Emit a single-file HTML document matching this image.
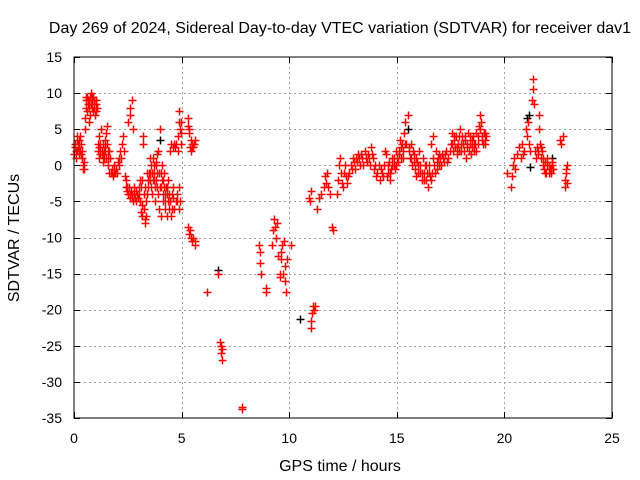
<!DOCTYPE html>
<html><head><meta charset="utf-8"><style>
body{margin:0;background:#fff;}
svg{display:block;font-family:"Liberation Sans",sans-serif;}
</style></head><body>
<svg id="chart" width="640" height="480" viewBox="0 0 640 480">
<rect width="640" height="480" fill="#fff"/>
<g id="grid"></g>
<g id="marks"></g>
<rect x="74" y="57" width="538" height="361" fill="none" stroke="#000" stroke-width="1"/>
<g id="ticks"></g>
<text x="340" y="33" font-size="16" text-anchor="middle">Day 269 of 2024, Sidereal Day-to-day VTEC variation (SDTVAR) for receiver dav1</text>
<text x="340" y="471" font-size="16" text-anchor="middle">GPS time / hours</text>
<text transform="translate(19,238) rotate(-90)" font-size="16" text-anchor="middle">SDTVAR / TECUs</text>
</svg>
<script>
const xTicks=[0,5,10,15,20,25];
const yTicks=[15,10,5,0,-5,-10,-15,-20,-25,-30,-35];
const redPoints=[[0,1.5],[0.03,2.5],[0.06,3],[0.1,2],[0.12,3.5],[0.15,4],[0.18,2.5],[0.2,3],[0.22,1.5],[0.25,3.5],[0.28,2],[0.3,4],[0.33,3],[0.35,1],[0.38,2],[0.4,0],[0.43,-0.5],[0.45,0.5],[0.48,-0.5],
[0.5,5],[0.52,6.5],[0.55,8],[0.58,9],[0.6,9.5],[0.62,7.5],[0.65,8.5],[0.68,9],[0.7,6],[0.72,8],[0.75,9.5],[0.78,8.5],[0.8,10],[0.82,8],[0.85,9],[0.88,7.5],[0.9,9.5],[0.92,8.5],[0.95,8],[0.98,7],[1.0,9],[1.03,7.5],[1.05,8],
[1.1,3],[1.13,2],[1.15,4],[1.18,1],[1.2,3],[1.23,2.5],[1.25,5],[1.28,2],[1.3,1.5],[1.33,3],[1.35,0.5],[1.38,2],[1.4,1],[1.42,3.5],[1.45,2],[1.48,1],[1.5,4.5],[1.52,5.5],[1.55,3],[1.58,2],[1.6,0],[1.63,-1],[1.65,1],
[1.7,-1],[1.75,-0.5],[1.8,-1.5],[1.85,0],[1.9,-1],[1.95,-0.5],[2.0,-1],[2.05,0.5],[2.1,1],[2.15,2],[2.2,1],[2.25,3],[2.3,4],[2.33,2],[2.35,-1.5],[2.4,-3],[2.42,-2],[2.45,-3.5],[2.5,-4],[2.52,6],[2.55,-3],[2.58,7],[2.6,-4.5],[2.62,8],[2.65,-3.5],[2.68,9],[2.7,-4],[2.72,5],[2.75,-5],[2.8,-4],[2.85,-4.5],[2.9,-3.5],[2.95,-4],
[3.0,-3],[3.05,-2],[3.08,-5],[3.1,-6.5],[3.12,-3],[3.15,-7],[3.18,-2],[3.2,3],[3.22,4],[3.25,-6],[3.28,-7.5],[3.3,-8],[3.32,-3],[3.35,-7],[3.38,-4],[3.4,-1],[3.42,-2],[3.45,-3],[3.5,-1],[3.52,1],[3.55,-2],[3.58,0],[3.6,-3],[3.63,-4],[3.65,-2],[3.68,1],[3.7,-1],[3.72,0],[3.75,-3],[3.78,-5],[3.8,-2],[3.82,0.5],[3.85,1.5],[3.88,-1],[3.9,2],[3.92,-4],[3.95,-6],[3.98,-3],[4.0,5],[4.02,-1],[4.05,-7],[4.08,-2],[4.1,0],[4.12,-4],[4.15,-5],[4.18,-1],[4.2,-3],[4.22,-5],[4.25,-6],[4.28,-3],[4.3,-4],[4.32,-7],[4.35,-5],[4.38,-2],[4.4,-6],[4.42,-4],[4.45,2],[4.48,-5],[4.5,3],[4.52,-7],[4.55,-6],[4.58,2.5],[4.6,-3],[4.62,-4.5],[4.65,3],[4.7,2.5],[4.75,3],[4.8,-5],[4.82,2],[4.85,4],[4.88,6],[4.9,7.5],[4.92,5],[4.95,3],[4.98,4.5],
[5.3,6.5],[5.32,5.5],[5.35,4.5],[5.4,2.5],[5.42,3.5],[5.45,2],[5.5,3],[5.55,2.5],[5.6,3.5],
[5.3,-8.5],[5.35,-9.5],[5.4,-9],[5.45,-10],[5.5,-10.5],[5.55,-10],[5.6,-11],[5.62,-10.5],
[6.2,-17.5],[6.7,-15],[6.8,-24.5],[6.82,-25],[6.85,-26],[6.88,-25.5],[6.9,-27],[7.8,-33.5],[7.82,-33.8],
[8.6,-11],[8.62,-12],[8.65,-13.5],[8.68,-15],[8.9,-17],[8.92,-17.5],
[9.2,-11],[9.25,-9],[9.3,-7.5],[9.35,-8.5],[9.4,-10],[9.45,-8],[9.5,-12.5],[9.55,-15.5],[9.58,-15],[9.6,-13],[9.62,-12],[9.65,-11],[9.7,-15],[9.75,-10.5],[9.8,-14],[9.82,-16],[9.85,-17.5],[9.9,-13],[10.1,-11],
[10.9,-4.5],[10.95,-5],[11.0,-22.5],[11.02,-21.5],[11.05,-20.5],[11.1,-19.5],[11.15,-20],[11.2,-19.5],[11.0,-3.5],
[11.3,-6],[11.4,-4.5],[11.5,-4],[11.6,-3],[11.65,-1.5],[11.7,-2.5],[11.75,-1],[11.8,-3],[11.9,-4],[12.0,-8.5],[12.02,-9],
[12.2,-4],[12.25,-2],[12.3,0],[12.35,1],[12.4,-1],[12.45,-2.5],[12.5,-3],[12.55,-1],[12.6,0],[12.7,-2.5],[12.8,-1],[12.9,-0.5],[13.0,0.5],[13.1,1],[13.2,1.5],[13.3,0],[13.4,1],[13.5,2],[13.6,0.5],[13.7,1],[13.8,2.5],[13.9,1],[14.0,0],[14.1,-1],[14.2,-2],[14.3,-1],[14.4,0],[14.45,2],[14.5,1.5],[14.55,-1.5],[14.6,-1],[14.65,0.5],[14.7,-2],[14.75,-0.5],[14.8,0],[14.85,1],[14.9,-0.5],[14.95,2],[15.0,1],[15.05,0.5],[15.1,2],[15.15,3.5],[15.2,1],[15.25,3],[15.3,2],[15.35,4.5],[15.4,6],[15.45,3],[15.5,7],[15.55,2.5],[15.6,1],[15.65,3],[15.7,0],[15.75,2],[15.8,1.5],[15.85,-0.5],[15.9,-1.5],[15.95,0.5],[16.0,-1],[16.05,2],[16.1,0],[16.15,-2],[16.2,1],[16.25,-1],[16.3,0],[16.35,-2],[16.4,-1],[16.45,-3],[16.5,0],[16.55,-1.5],[16.6,3],[16.65,-1],[16.7,4],[16.75,0],[16.8,2],[16.85,-0.5],[16.9,1],[16.95,0],[17.0,1],[17.1,1.5],[17.2,0.5],[17.3,2],[17.4,1],[17.5,3],[17.55,4.5],[17.6,2],[17.65,3.5],[17.7,2.5],[17.75,4],[17.8,1.5],[17.85,3],[17.9,2],[17.95,5],[18.0,3],[18.05,4],[18.1,2],[18.15,3.5],[18.2,1],[18.25,2.5],[18.3,4.5],[18.35,2],[18.4,3],[18.45,1.5],[18.5,3.5],[18.55,4],[18.6,2],[18.65,3],[18.7,4.5],[18.75,3],[18.8,5.5],[18.85,7],[18.9,6],[18.95,4],[19.0,3],[19.05,4.5],[19.1,3.5],[19.15,4],
[20.1,-1],[20.3,-3],[20.35,-1.5],[20.4,0],[20.45,1],[20.5,-0.5],[20.6,1.5],[20.7,2.5],[20.75,1],[20.8,3],[20.85,1.5],[20.9,2],[21.0,5],[21.05,4],[21.1,6],[21.15,3],[21.2,2],[21.3,9],[21.32,10.5],[21.34,12],[21.36,8.5],[21.4,2],[21.45,1],[21.5,2.5],[21.55,1.5],[21.6,7],[21.62,5],[21.65,3],[21.7,1],[21.75,2],[21.8,0],[21.85,-0.5],[21.9,0.5],[21.95,-1],[22.0,1],[22.05,0],[22.1,-0.5],[22.15,-1],[22.2,0],[22.25,-0.5],[22.6,3.5],[22.65,3],[22.7,4],[22.8,-2],[22.82,-3],[22.85,-1],[22.88,-0.5],[22.9,-2.5],[22.92,0]];
const extraRedPoints=[[0.08,1],[0.14,2],[0.24,2.5],[0.32,1.5],[0.56,9.5],[0.64,9],[0.7,8.5],[0.74,7],[0.84,9.5],[0.94,9],[1.02,8.5],[1.16,2.5],[1.22,1.5],[1.36,1.5],[1.44,2.5],[1.56,1],[1.62,2],[1.78,-1],[1.88,-1],[2.08,0],[2.48,-3],[2.58,-4],[2.68,-4.5],[2.78,-3],[2.88,-5],[2.98,-4.5],[3.02,-4],[3.14,-5.5],[3.24,-4],[3.34,-5],[3.44,-2],[3.54,-1],[3.62,-1],[3.7,-2],[3.8,0],[3.86,-3],[3.94,-1],[4.04,-3],[4.14,-2],[4.24,-4],[4.34,-3],[4.44,-5],[4.54,-4],[4.64,-6],[4.72,-5],[4.78,-4],[4.86,-6],[4.9,-3],[4.94,-5],[4.96,6],[5.36,5],[5.48,2.5],[5.58,3],[12.62,-1.5],[12.75,-1.5],[12.85,0],[12.95,1],[13.05,-0.5],[13.15,0.5],[13.25,1],[13.35,1.5],[13.45,0],[13.55,1],[13.65,1.5],[13.75,0],[13.85,1.5],[13.95,-0.5],[14.05,-1.5],[14.15,0],[14.25,-0.5],[14.35,-1.5],[14.58,0],[14.68,-1],[14.78,1],[14.88,0],[14.98,0],[15.08,1.5],[15.18,2.5],[15.28,1],[15.38,3],[15.58,2],[15.68,1],[15.78,0.5],[15.88,1],[15.98,0],[16.08,-1],[16.18,-1],[16.28,-2],[16.38,0],[16.48,-1],[16.58,-2],[16.68,1],[16.78,-1],[16.88,0.5],[16.98,1.5],[17.05,0],[17.15,1],[17.25,1.5],[17.35,0.5],[17.45,2],[17.58,3],[17.68,4],[17.78,2.5],[17.88,4],[17.98,2],[18.08,3],[18.18,4],[18.28,3],[18.38,4],[18.48,2.5],[18.58,3],[18.68,2],[18.78,4],[18.88,5],[18.98,3.5],[19.08,3],[19.12,4.5],[21.58,2],[21.68,2.5],[21.78,1],[21.88,-1],[21.98,0],[22.08,-1],[22.18,-0.5],[22.22,0.5]];
const blackPoints=[[4.0,3.5],[6.7,-14.5],[10.5,-21.3],[21.05,6.5],[21.15,7],[21.2,-0.3],[22.2,1],[15.5,5],[4.3,-3]];

const NS='http://www.w3.org/2000/svg';
const X0=74,X1=612,Y0=418,Y1=57;
function xs(t){return X0+(t-0)/(25-0)*(X1-X0);}
function ys(v){return Y0-(v-(-35))/(15-(-35))*(Y0-Y1);}
function mk(tag,attrs,parent){const e=document.createElementNS(NS,tag);for(const k in attrs)e.setAttribute(k,attrs[k]);parent.appendChild(e);return e;}
const grid=document.getElementById('grid'),ticks=document.getElementById('ticks'),marks=document.getElementById('marks');
xTicks.forEach(t=>{const x=Math.round(xs(t))+0.5;
 if(t>0&&t<25){const g=mk('line',{x1:x,x2:x,y1:Y1,y2:Y0,stroke:'#a0a0a0','stroke-dasharray':'2,3'},grid);
 
 }
 mk('line',{x1:x,x2:x,y1:Y0,y2:Y0-6,stroke:'#000'},ticks);
 mk('line',{x1:x,x2:x,y1:Y1,y2:Y1+6,stroke:'#000'},ticks);
 const l=mk('text',{x:xs(t),y:443,'font-size':14,'text-anchor':'middle'},ticks);l.textContent=t;
 
 });
yTicks.forEach(v=>{const y=Math.round(ys(v))+0.5;
 if(v>-35&&v<15){const g=mk('line',{x1:X0,x2:X1,y1:y,y2:y,stroke:'#a0a0a0','stroke-dasharray':'2,3'},grid);
 
 }
 mk('line',{x1:X0,x2:X0+6,y1:y,y2:y,stroke:'#000'},ticks);
 mk('line',{x1:X1,x2:X1-6,y1:y,y2:y,stroke:'#000'},ticks);
 const l=mk('text',{x:62,y:ys(v)+5,'font-size':14,'text-anchor':'end'},ticks);l.textContent=v;
 
 });
function plus(pts,color,name){let d='';pts.forEach(p=>{const x=Math.round(xs(p[0]))+0.5,y=Math.round(ys(p[1]))+0.5;d+=`M${x-4},${y}h8M${x},${y-4}v8`;});
 const e=mk('path',{d:d,stroke:color,'stroke-width':1.5,fill:'none'},marks);
 
 }
plus(blackPoints,'#000','black-series-points');
plus(redPoints,'#f00','sdtvar-points');
plus(extraRedPoints,'#f00','sdtvar-points-extra');
</script>
</body></html>
